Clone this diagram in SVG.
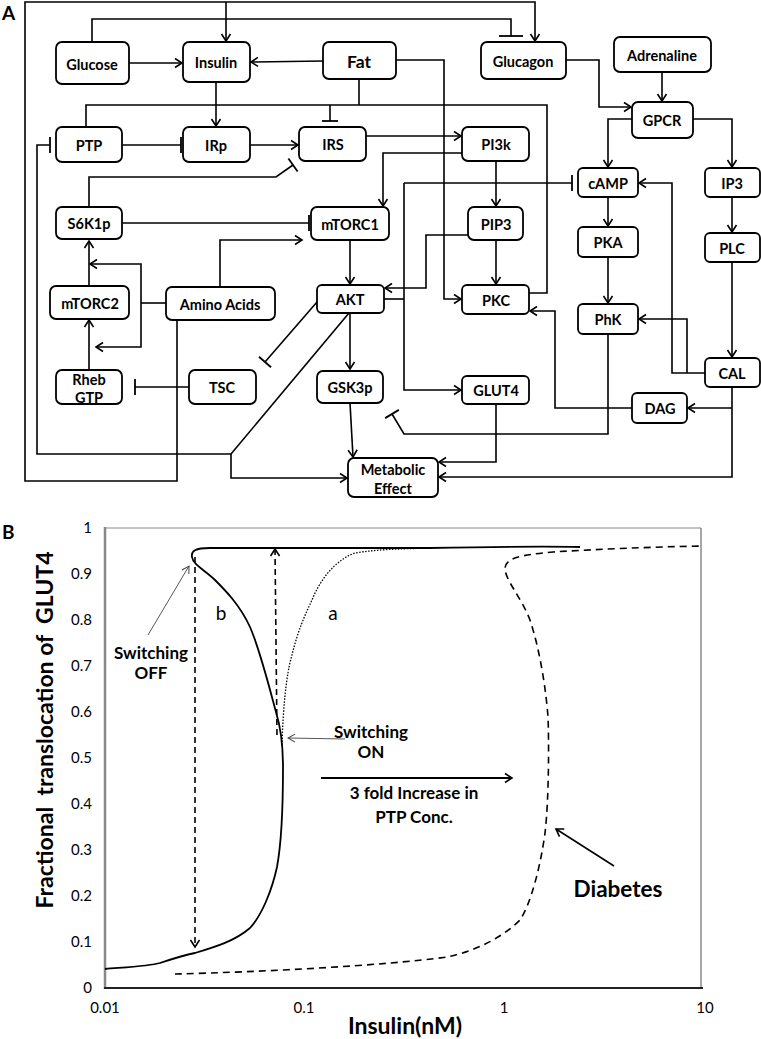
<svg xmlns="http://www.w3.org/2000/svg" width="761" height="1039" viewBox="0 0 761 1039">
<defs>
<marker id="arr" markerUnits="userSpaceOnUse" markerWidth="12" markerHeight="12" refX="8" refY="5" orient="auto" overflow="visible">
<path d="M1,0.5 L8,5 L1,9.5" fill="none" stroke="#000" stroke-width="1.6"/>
</marker>
<marker id="arrThin" markerUnits="userSpaceOnUse" markerWidth="12" markerHeight="12" refX="8" refY="5" orient="auto" overflow="visible">
<path d="M1,1 L8,5 L1,9" fill="none" stroke="#444" stroke-width="1"/>
</marker>
<marker id="tee" markerUnits="userSpaceOnUse" markerWidth="4" markerHeight="18" refX="2" refY="9" orient="auto" overflow="visible">
<path d="M2,1 L2,17" fill="none" stroke="#000" stroke-width="1.8"/>
</marker>
</defs>
<style>
.box{fill:#fff;stroke:#000;stroke-width:1.8}
.lbl{font-family:Lato,"Liberation Sans",sans-serif;font-weight:bold;font-size:14.5px;text-anchor:middle;dominant-baseline:central;fill:#000}
.c{fill:none;stroke:#000;stroke-width:1.6}
.a{marker-end:url(#arr)}
.t{marker-end:url(#tee)}
.tick{font-family:Lato,"Liberation Sans",sans-serif;font-size:15px;fill:#000}
.ann{font-family:Lato,"Liberation Sans",sans-serif;font-weight:bold;font-size:17px;text-anchor:middle;fill:#000}
</style>
<rect width="761" height="1039" fill="#fff"/>
<text x="2" y="20" font-family="Lato,'Liberation Sans',sans-serif" font-weight="bold" font-size="19">A</text>
<text x="2" y="539" font-family="Lato,'Liberation Sans',sans-serif" font-weight="bold" font-size="19">B</text>

<g id="connectors">
<polyline class="c a" points="177,320 177,481 25,481 25,2 535,2 535,41"/>
<polyline class="c a" points="226,2 226,41"/>
<polyline class="c" points="92,42 92,19 511,19 511,36"/>
<line x1="499" y1="36" x2="523" y2="36" stroke="#000" stroke-width="1.8"/>
<polyline class="c a" points="129,63 182,63"/>
<polyline class="c a" points="323,61 251,62"/>
<polyline class="c a" points="396,60 444,60 444,299 461,299"/>
<polyline class="c" points="529,293 547,293 547,105 86,105 86,127"/>
<polyline class="c t" points="330,105 330,121"/>
<polyline class="c" points="359,79 359,105"/>
<polyline class="c a" points="216,82 216,126"/>
<polyline class="c t" points="122,145 181,145"/>
<polyline class="c a" points="250,145 298,145"/>
<polyline class="c a" points="366,136 461,136"/>
<polyline class="c a" points="462,153 383,153 383,206"/>
<polyline class="c a" points="496,161 496,206"/>
<polyline class="c a" points="404,183 404,390 461,390"/>
<polyline class="c t" points="404,183 572,183"/>
<polyline class="c" points="384,299 404,299"/>
<polyline class="c a" points="468,235 426,235 426,288 385,288"/>
<polyline class="c a" points="496,240 496,284"/>
<polyline class="c a" points="350,240 350,284"/>
<polyline class="c t" points="122,223 309,223"/>
<polyline class="c t" points="89,207 89,177 276,177 293,165"/>
<polyline class="c a" points="220,287 220,240 302,240"/>
<polyline class="c" points="166,303 141,303"/>
<polyline class="c a" points="141,303 141,264 90,264"/>
<polyline class="c a" points="141,303 141,347 96,347"/>
<polyline class="c a" points="89,286 89,241"/>
<polyline class="c a" points="89,370 89,320"/>
<polyline class="c t" points="189,387 135,387"/>
<polyline class="c t" points="317,302 265,362"/>
<polyline class="c" points="349,313 231,454"/>
<polyline class="c t" points="231,454 37,454 37,145 50,145"/>
<polyline class="c a" points="231,454 231,478 347,478"/>
<polyline class="c a" points="350,313 350,369"/>
<polyline class="c a" points="350,403 353,457"/>
<polyline class="c a" points="496,404 496,462 439,462"/>
<polyline class="c t" points="608,334 608,434 404,434 392,414"/>
<polyline class="c a" points="732,387 732,477 439,477"/>
<polyline class="c a" points="732,408 688,408"/>
<polyline class="c a" points="632,408 555,408 555,311 530,311"/>
<polyline class="c a" points="705,373 672,373 672,183 639,183"/>
<polyline class="c a" points="687,373 687,319 639,319"/>
<polyline class="c a" points="566,60 599,60 599,107 631,107"/>
<polyline class="c a" points="662,72 662,101"/>
<polyline class="c a" points="632,119 608,119 608,167"/>
<polyline class="c a" points="693,119 732,119 732,167"/>
<polyline class="c a" points="608,197 608,226"/>
<polyline class="c a" points="732,197 732,232"/>
<polyline class="c a" points="608,257 608,303"/>
<polyline class="c a" points="732,262 732,357"/>
</g>

<g id="glucose"><rect class="box" x="56" y="42" width="73" height="42" rx="6"/><text class="lbl" x="92" y="64">Glucose</text></g>
<g id="insulin"><rect class="box" x="183" y="42" width="67" height="40" rx="6"/><text class="lbl" x="216" y="62">Insulin</text></g>
<g id="fat"><rect class="box" x="323" y="42" width="73" height="37" rx="6"/><text class="lbl" x="359" y="61" style="font-size:17.5px">Fat</text></g>
<g id="glucagon"><rect class="box" x="481" y="42" width="85" height="37" rx="6"/><text class="lbl" x="523" y="61">Glucagon</text></g>
<g id="adrenaline"><rect class="box" x="614" y="37" width="97" height="35" rx="6"/><text class="lbl" x="662" y="55">Adrenaline</text></g>
<g id="gpcr"><rect class="box" x="632" y="102" width="61" height="36" rx="6"/><text class="lbl" x="662" y="120">GPCR</text></g>
<g id="ptp"><rect class="box" x="56" y="127" width="66" height="35" rx="6"/><text class="lbl" x="89" y="145">PTP</text></g>
<g id="irp"><rect class="box" x="183" y="127" width="67" height="35" rx="6"/><text class="lbl" x="216" y="145">IRp</text></g>
<g id="irs"><rect class="box" x="299" y="127" width="67" height="34" rx="6"/><text class="lbl" x="333" y="144">IRS</text></g>
<g id="pi3k"><rect class="box" x="462" y="127" width="67" height="34" rx="6"/><text class="lbl" x="496" y="144">PI3k</text></g>
<g id="camp"><rect class="box" x="578" y="168" width="60" height="29" rx="5"/><text class="lbl" x="608" y="183">cAMP</text></g>
<g id="ip3"><rect class="box" x="705" y="168" width="55" height="29" rx="5"/><text class="lbl" x="732" y="183">IP3</text></g>
<g id="s6k1p"><rect class="box" x="56" y="207" width="66" height="32" rx="6"/><text class="lbl" x="89" y="223">S6K1p</text></g>
<g id="mtorc1"><rect class="box" x="311" y="207" width="78" height="33" rx="6"/><text class="lbl" x="350" y="224">mTORC1</text></g>
<g id="pip3"><rect class="box" x="468" y="207" width="55" height="33" rx="6"/><text class="lbl" x="496" y="224">PIP3</text></g>
<g id="pka"><rect class="box" x="578" y="227" width="60" height="30" rx="5"/><text class="lbl" x="608" y="242">PKA</text></g>
<g id="plc"><rect class="box" x="705" y="233" width="55" height="29" rx="5"/><text class="lbl" x="732" y="248">PLC</text></g>
<g id="mtorc2"><rect class="box" x="50" y="286" width="79" height="33" rx="6"/><text class="lbl" x="90" y="303">mTORC2</text></g>
<g id="aminoacids"><rect class="box" x="166" y="287" width="109" height="33" rx="6"/><text class="lbl" x="220" y="304">Amino Acids</text></g>
<g id="akt"><rect class="box" x="317" y="285" width="67" height="28" rx="5"/><text class="lbl" x="350" y="299">AKT</text></g>
<g id="pkc"><rect class="box" x="462" y="285" width="67" height="29" rx="5"/><text class="lbl" x="496" y="300">PKC</text></g>
<g id="phk"><rect class="box" x="578" y="304" width="60" height="30" rx="5"/><text class="lbl" x="608" y="319">PhK</text></g>
<g id="cal"><rect class="box" x="705" y="358" width="55" height="29" rx="5"/><text class="lbl" x="732" y="373">CAL</text></g>
<g id="rhebgtp"><rect class="box" x="56" y="370" width="66" height="34" rx="6"/><text class="lbl" x="89" y="379">Rheb</text><text class="lbl" x="89" y="397">GTP</text></g>
<g id="tsc"><rect class="box" x="189" y="370" width="67" height="34" rx="6"/><text class="lbl" x="222" y="387">TSC</text></g>
<g id="gsk3p"><rect class="box" x="317" y="371" width="66" height="32" rx="6"/><text class="lbl" x="350" y="387">GSK3p</text></g>
<g id="glut4"><rect class="box" x="462" y="376" width="67" height="28" rx="5"/><text class="lbl" x="496" y="390">GLUT4</text></g>
<g id="dag"><rect class="box" x="632" y="393" width="55" height="30" rx="5"/><text class="lbl" x="660" y="408">DAG</text></g>
<g id="metabolic"><rect class="box" x="348" y="458" width="90" height="39" rx="6"/><text class="lbl" x="393" y="469">Metabolic</text><text class="lbl" x="393" y="488">Effect</text></g>

<g id="chart">
<line x1="105" y1="528" x2="701" y2="528" stroke="#888" stroke-width="1"/>
<line x1="701" y1="528" x2="701" y2="988" stroke="#777" stroke-width="1.3"/>
<line x1="105" y1="527" x2="105" y2="989" stroke="#888" stroke-width="2.5"/>
<line x1="104" y1="988" x2="703" y2="988" stroke="#222" stroke-width="2"/>
<g class="tick" text-anchor="end">
<text x="92" y="533">1</text>
<text x="92" y="579">0.9</text>
<text x="92" y="625">0.8</text>
<text x="92" y="671">0.7</text>
<text x="92" y="717">0.6</text>
<text x="92" y="763">0.5</text>
<text x="92" y="809">0.4</text>
<text x="92" y="855">0.3</text>
<text x="92" y="901">0.2</text>
<text x="92" y="947">0.1</text>
<text x="92" y="993">0</text>
</g>
<g class="tick" text-anchor="middle">
<text x="105" y="1013">0.01</text>
<text x="304" y="1013">0.1</text>
<text x="504" y="1013">1</text>
<text x="705" y="1013">10</text>
</g>
<text transform="translate(53,730) rotate(-90)" font-family="Lato,'Liberation Sans',sans-serif" font-weight="bold" font-size="23" text-anchor="middle" xml:space="preserve">Fractional  translocation of  GLUT4</text>
<text x="405" y="1034" font-family="Lato,'Liberation Sans',sans-serif" font-weight="bold" font-size="23" text-anchor="middle">Insulin(nM)</text>

<path d="M105,969 C130,967 150,966 160,963 C175,958 185,955 195,953 C215,947 235,941 250,928 C262,915 272,890 277,867 C282,840 283,800 283,767 C283,745 280,725 276,712 C270,690 260,650 250,627 C240,605 225,590 215,580 C205,570 193,565 192,557 C191,551 195,548 210,548 L430,548 C480,547 540,546 580,547" fill="none" stroke="#000" stroke-width="1.8"/>
<path d="M282,745 C283,710 286,675 292,655 C298,630 305,615 312,600 C320,580 335,560 355,553 C380,549 400,549 430,548" fill="none" stroke="#000" stroke-width="1.3" stroke-dasharray="1.5,1.5"/>
<path d="M175,974 C260,972 380,966 447,957 C480,950 505,935 520,920 C530,905 540,870 545,833 C549,800 549,740 548,717 C546,690 540,650 530,620 C520,595 505,580 505,568 C506,558 520,555 553,552 C600,549 650,547 703,546" fill="none" stroke="#000" stroke-width="1.6" stroke-dasharray="7,5"/>
<line x1="195" y1="557" x2="195" y2="947" stroke="#000" stroke-width="1.6" stroke-dasharray="6,4" marker-end="url(#arr)"/>
<line x1="277" y1="735" x2="275" y2="549" stroke="#000" stroke-width="1.6" stroke-dasharray="6,4" marker-end="url(#arr)"/>
<line x1="148" y1="635" x2="189" y2="566" stroke="#444" stroke-width="0.9" marker-end="url(#arrThin)"/>
<line x1="345" y1="739" x2="288" y2="738" stroke="#444" stroke-width="0.9" marker-end="url(#arrThin)"/>
<line x1="321" y1="778" x2="512" y2="778" stroke="#000" stroke-width="2" marker-end="url(#arr)"/>
<line x1="614" y1="866" x2="556" y2="829" stroke="#000" stroke-width="1.6" marker-end="url(#arr)"/>

<text x="221" y="620" font-family="Lato,'Liberation Sans',sans-serif" font-size="19" text-anchor="middle">b</text>
<text x="333" y="620" font-family="Lato,'Liberation Sans',sans-serif" font-size="19" text-anchor="middle">a</text>
<text class="ann" x="151" y="659">Switching</text>
<text class="ann" x="151" y="679">OFF</text>
<text class="ann" x="371" y="738">Switching</text>
<text class="ann" x="371" y="758">ON</text>
<text class="ann" x="414" y="799">3 fold Increase in</text>
<text class="ann" x="414" y="823">PTP Conc.</text>
<text x="618" y="897" font-family="Lato,'Liberation Sans',sans-serif" font-weight="bold" font-size="22.5" text-anchor="middle">Diabetes</text>
</g>
</svg>
